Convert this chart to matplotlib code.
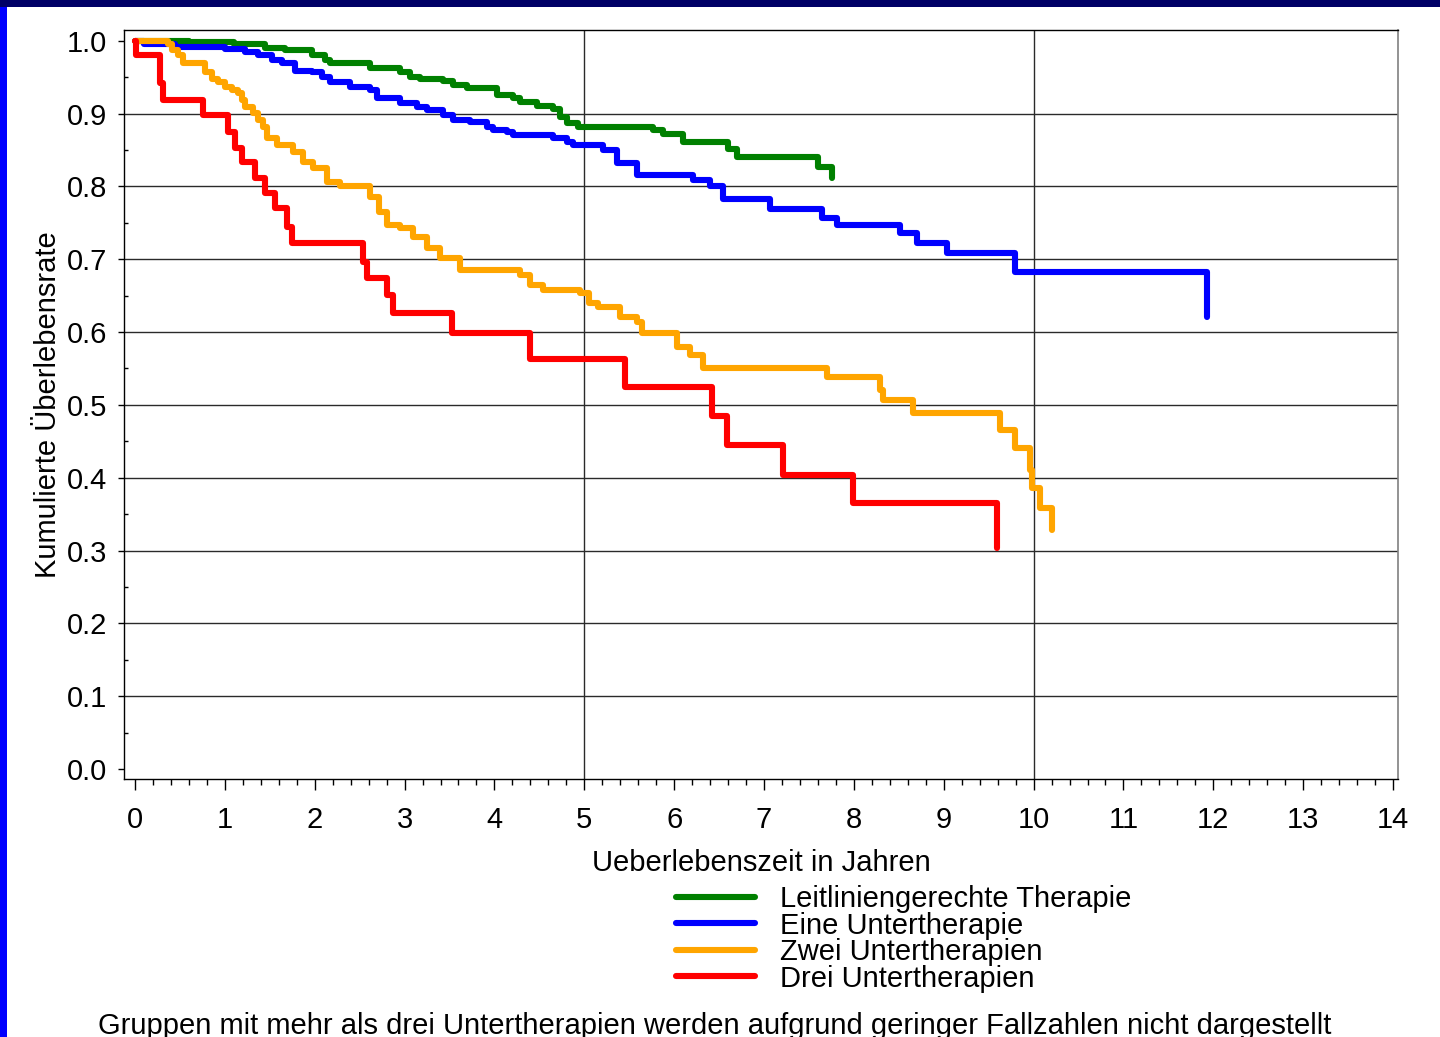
import matplotlib
matplotlib.use("Agg")
import matplotlib.pyplot as plt
from matplotlib.patches import Rectangle
from matplotlib.ticker import MultipleLocator, FormatStrFormatter

plt.rcParams['font.family'] = ['Liberation Sans', 'DejaVu Sans']

# ---------------- data (Kaplan-Meier step curves) ----------------
labels = ["Leitliniengerechte Therapie", "Eine Untertherapie",
          "Zwei Untertherapien", "Drei Untertherapien"]
colors = ["#008000", "#0000FF", "#FFA500", "#FF0000"]

t_green = [0, 0.6, 1.1, 1.45, 1.67, 1.97, 2.11, 2.17, 2.61, 2.95, 3.06, 3.17, 3.43,
           3.54, 3.69, 4.03, 4.21, 4.28, 4.47, 4.65, 4.73, 4.81, 4.93, 5.76, 5.88,
           6.10, 6.60, 6.70, 7.60, 7.76]
s_green = [1.0, 0.998, 0.995, 0.990, 0.987, 0.980, 0.974, 0.969, 0.962, 0.957, 0.950,
           0.948, 0.945, 0.939, 0.935, 0.925, 0.922, 0.916, 0.910, 0.906, 0.895, 0.887,
           0.882, 0.877, 0.872, 0.861, 0.851, 0.840, 0.827, 0.812]

t_blue = [0, 0.1, 0.45, 1.0, 1.22, 1.37, 1.52, 1.64, 1.78, 1.97, 2.08, 2.17, 2.39,
          2.61, 2.69, 2.87, 2.95, 3.14, 3.25, 3.43, 3.54, 3.73, 3.92, 3.98, 4.14,
          4.21, 4.65, 4.81, 4.87, 5.21, 5.36, 5.59, 6.21, 6.40, 6.54, 7.07, 7.65,
          7.81, 8.51, 8.70, 9.04, 9.79, 11.93]
s_blue = [1.0, 0.996, 0.992, 0.988, 0.984, 0.980, 0.973, 0.969, 0.959, 0.957, 0.950,
          0.943, 0.936, 0.932, 0.922, 0.921, 0.914, 0.909, 0.905, 0.898, 0.891, 0.888,
          0.882, 0.877, 0.875, 0.871, 0.866, 0.861, 0.857, 0.850, 0.832, 0.816, 0.809,
          0.800, 0.783, 0.769, 0.756, 0.747, 0.736, 0.722, 0.708, 0.682, 0.621]

t_orange = [0, 0.37, 0.41, 0.48, 0.53, 0.78, 0.86, 0.92, 1.0, 1.08, 1.15, 1.19, 1.22,
            1.31, 1.37, 1.42, 1.47, 1.58, 1.76, 1.87, 1.98, 2.14, 2.28, 2.61, 2.72,
            2.80, 2.95, 3.09, 3.25, 3.39, 3.62, 4.28, 4.40, 4.54, 4.95, 5.05, 5.15,
            5.40, 5.59, 5.64, 6.03, 6.18, 6.32, 7.70, 8.29, 8.32, 8.66, 9.63, 9.79,
            9.96, 9.98, 10.07, 10.20]
s_orange = [1.0, 0.995, 0.987, 0.980, 0.969, 0.957, 0.948, 0.943, 0.936, 0.932, 0.928,
            0.918, 0.909, 0.901, 0.891, 0.882, 0.866, 0.857, 0.847, 0.834, 0.825, 0.806,
            0.800, 0.785, 0.765, 0.747, 0.743, 0.730, 0.715, 0.702, 0.685, 0.678, 0.665,
            0.658, 0.653, 0.640, 0.635, 0.621, 0.614, 0.599, 0.580, 0.569, 0.550, 0.538,
            0.520, 0.507, 0.489, 0.466, 0.441, 0.411, 0.386, 0.359, 0.328]

t_red = [0, 0.01, 0.28, 0.31, 0.76, 1.03, 1.11, 1.19, 1.34, 1.45, 1.56, 1.69, 1.75,
         2.54, 2.58, 2.80, 2.87, 3.53, 4.40, 5.45, 6.42, 6.59, 7.21, 7.99, 9.59]
s_red = [1.0, 0.980, 0.942, 0.918, 0.898, 0.875, 0.853, 0.834, 0.812, 0.791, 0.770,
         0.744, 0.722, 0.696, 0.674, 0.651, 0.626, 0.599, 0.563, 0.524, 0.485, 0.445,
         0.404, 0.365, 0.303]

grid_y = [0.1, 0.2, 0.3, 0.4, 0.5, 0.6, 0.7, 0.8, 0.9]
grid_x = [5, 10]

series = [(t_green, s_green), (t_blue, s_blue), (t_orange, s_orange), (t_red, s_red)]

# ---------------- figure ----------------
W, H = 1440, 1037
fig = plt.figure(figsize=(W / 100, H / 100), dpi=100)
fig.patch.set_facecolor("white")
fig.patches.append(Rectangle((0, 1 - 7 / H), 1, 7 / H, transform=fig.transFigure,
                             facecolor="#000066", edgecolor="none", zorder=0))
fig.patches.append(Rectangle((0, 0), 7 / W, 1 - 7 / H, transform=fig.transFigure,
                             facecolor="#0000FF", edgecolor="none", zorder=0))

ax = fig.add_axes([124 / W, 1 - 779 / H, (1398 - 124) / W, (779 - 30) / H])
ax.set_xlim(-0.122, 14.055)
ax.set_ylim(-0.0137, 1.0147)

for y in grid_y:
    ax.axhline(y, color="#2a2a2a", lw=1.0, zorder=1)
for x in grid_x:
    ax.axvline(x, color="#2a2a2a", lw=1.0, zorder=1)

for (t, s), c, lab in zip(series, colors, labels):
    ax.plot(t, s, drawstyle="steps-post", color=c, lw=4.4, label=lab,
            solid_joinstyle="round", solid_capstyle="round", zorder=3)

ax.xaxis.set_major_locator(MultipleLocator(1))
ax.xaxis.set_minor_locator(MultipleLocator(0.2))
ax.yaxis.set_major_locator(MultipleLocator(0.1))
ax.yaxis.set_minor_locator(MultipleLocator(0.05))
ax.yaxis.set_major_formatter(FormatStrFormatter("%.1f"))

ax.tick_params(axis="x", which="major", direction="out", length=8, width=1.0,
               labelsize=21, pad=11.5)
ax.tick_params(axis="x", which="minor", direction="out", length=4, width=1.0)
ax.tick_params(axis="y", which="major", direction="out", length=4, width=1.0,
               labelsize=21, pad=8)
ax.tick_params(axis="y", which="minor", direction="in", length=3, width=1.0)

for side in ["left", "bottom", "top"]:
    ax.spines[side].set_color("black")
    ax.spines[side].set_linewidth(1.0)
ax.spines["right"].set_color("#808080")
ax.spines["right"].set_linewidth(1.2)

ax.set_xlabel("Ueberlebenszeit in Jahren", fontsize=21)
ax.set_ylabel("Kumulierte Überlebensrate", fontsize=21)
ax.xaxis.set_label_coords(0.5, -0.093)
ax.yaxis.set_label_coords(-0.049, 0.5)

leg = ax.legend(loc="upper left", bbox_to_anchor=(676 / W, 1 - 885 / H),
                bbox_transform=fig.transFigure, frameon=False, borderpad=0,
                borderaxespad=0, handlelength=2.7, handletextpad=0.85,
                labelspacing=-0.05, fontsize=21)

fig.text(715 / W, 1 - 1034 / H,
         "Gruppen mit mehr als drei Untertherapien werden aufgrund geringer Fallzahlen nicht dargestellt",
         ha="center", va="baseline", fontsize=21)

fig.savefig("out.png", dpi=100)
